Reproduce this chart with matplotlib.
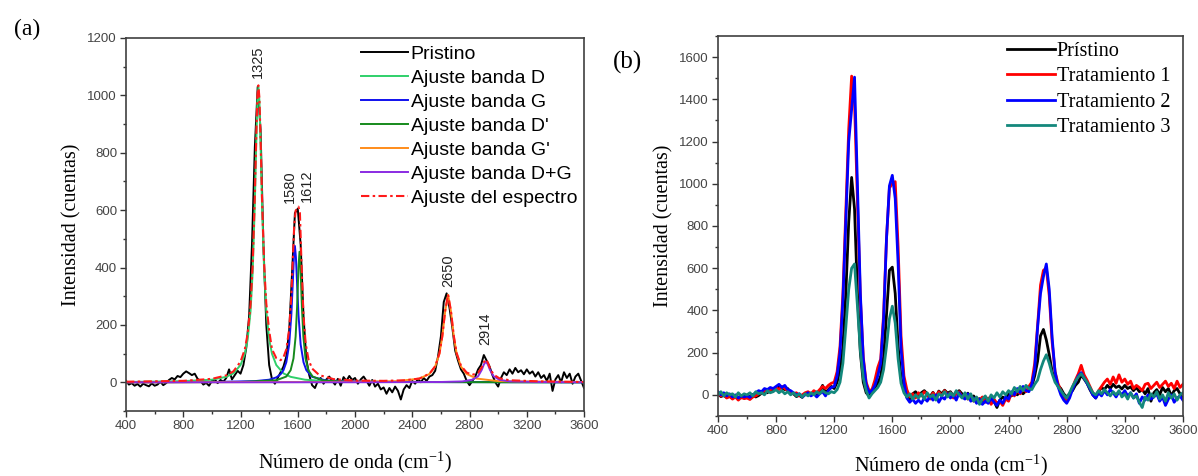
import numpy as np
import matplotlib
matplotlib.use('Agg')
from matplotlib import pyplot as plt
from matplotlib.ticker import MultipleLocator

SANS = ['Liberation Sans', 'DejaVu Sans']
SERIF = ['Liberation Serif', 'DejaVu Serif']

plt.rcParams['font.family'] = SANS
plt.rcParams['mathtext.fontset'] = 'custom'
plt.rcParams['mathtext.rm'] = 'Liberation Serif'
plt.rcParams['mathtext.it'] = 'Liberation Serif:italic'

# raman shift grid (cm-1), 20 cm-1 step
WAVENUMBER = np.arange(400, 3601, 20)

PRISTINO = [
    5, -8, -3, -12, -6, -15, -5, -10, -14, -4,
    -12, -8, 2, -10, -3, 8, 15, 10, 22, 18,
    30, 38, 32, 25, 30, 12, 5, -8, -2, -12,
    5, 10, -3, 8, 2, 15, 45, 10, 25, 40,
    30, 60, 120, 230, 480, 820, 1030, 880, 480, 200,
    60, 10, -5, 15, 35, 55, 90, 180, 380, 590,
    605, 480, 230, 80, 25, -10, -20, 5, 15, -5,
    10, 20, 5, -8, 12, -12, 18, 5, 22, 8,
    15, -5, 10, 20, 5, -12, 8, -15, -5, -25,
    -18, -40, -20, -35, -15, -30, -60, -25, -10, -20,
    5, -5, 12, 0, 15, 5, 20, 25, 40, 90,
    160, 280, 310, 260, 190, 110, 75, 45, 30, 5,
    -10, 5, 20, 45, 60, 95, 75, 55, 25, 0,
    -15, 15, 35, 25, 45, 30, 50, 35, 42, 28,
    45, 30, 38, 20, 35, 15, 25, 5, 30, -30,
    10, 25, 0, 35, 15, 30, -5, 20, 30, 5,
    -20,
]
TRATAMIENTO_1 = [
    10, -5, 5, -15, -8, -20, -10, -25, -12, -18,
    -15, -22, -10, -5, 5, 10, 20, 15, 25, 28,
    35, 25, 40, 30, 20, 15, 5, 10, -5, 0,
    10, 15, 5, 20, 10, 25, 40, 30, 45, 55,
    60, 110, 230, 480, 870, 1260, 1510, 1380, 920, 460,
    180, 60, 20, 25, 70, 130, 170, 380, 740, 980,
    1000, 1010, 700, 280, 90, 25, -10, 5, -15, 10,
    -5, 15, 0, -20, 10, -10, 15, -5, 20, 0,
    10, -15, 5, 15, -10, 0, -20, -5, -30, -15,
    -25, -10, -35, -15, -45, -20, -40, -30, -50, -20,
    -30, 10, -5, 20, 5, 30, 15, 40, 60, 150,
    330, 520, 590, 600, 470, 250, 110, 55, 20, -10,
    -25, 0, 35, 70, 100, 140, 95, 70, 40, 10,
    -5, 20, 40, 60, 75, 50, 85, 55, 95, 60,
    75, 50, 65, 30, 45, 35, 20, 50, 55, 30,
    45, 60, 35, 50, 65, 40, 55, 30, 65, 35,
    50,
]
TRATAMIENTO_2 = [
    15, 0, 10, -5, 5, -10, 0, -15, -5, -10,
    -5, -12, 0, 10, 20, 15, 30, 25, 35, 30,
    40, 50, 35, 45, 25, 20, 10, 0, 5, -10,
    0, 10, -5, 5, -10, 5, 15, -5, 20, 35,
    40, 90, 200, 450, 820, 1200, 1350, 1505, 1000, 480,
    170, 50, 10, 20, 45, 90, 150, 360, 740, 990,
    1040, 930, 620, 220, 60, -15, -35, -20, -40, -25,
    -40, -15, -30, -5, -25, 0, -35, -10, -20, 5,
    -15, 0, -25, 10, -10, -20, 5, -30, -15, -40,
    -20, -45, -30, -40, -15, -35, -50, -25, -40, -10,
    -20, 15, 0, 30, 10, 40, 20, 15, 50, 120,
    320, 480, 560, 620, 500, 270, 110, 40, 0, -25,
    -40, -15, 25, 60, 90, 105, 80, 55, 30, 0,
    -15, 10, -5, 20, 0, 25, 10, -10, 15, 0,
    20, -5, 10, -15, 5, -40, -10, -25, 0, -20,
    -10, 5, -30, -10, -50, -20, 0, -35, -15, -5,
    -25,
]
TRATAMIENTO_3 = [
    0, 15, -5, 10, 0, 5, -10, 10, -5, 5,
    0, 10, -5, 15, 5, 10, 0, 20, 10, 15,
    25, 10, 20, 5, 15, 0, 10, -5, 5, -10,
    5, -5, 10, 0, 15, 5, 20, 10, 5, 15,
    10, 25, 60, 150, 320, 500, 600, 620, 420, 210,
    80, 20, -15, 5, 20, 35, 60, 120, 230, 360,
    420, 340, 170, 55, 10, -10, 5, -20, 0, -15,
    5, -20, 10, -10, 0, -25, 5, -5, 15, -10,
    10, -5, 20, 0, -15, 10, -20, 5, -30, -10,
    -45, -20, -5, -30, 0, -15, 10, -10, 15, 0,
    20, 5, 35, 15, 40, 20, 45, 30, 25, 50,
    70, 120, 160, 190, 150, 100, 60, 40, 20, 0,
    -15, 10, 40, 65, 85, 100, 80, 60, 35, 10,
    0, 20, 5, 25, 10, -5, 15, 0, 20, -10,
    5, -20, 10, -15, -5, -35, -60, -10, -25, 5,
    -10, 15, -20, 0, -30, 10, -15, 5, -25, 0,
    10,
]

# fitted bands of panel (a)
BAND_D_X = [400, 800, 1000, 1100, 1150, 1200, 1230, 1250, 1270, 1285, 1300, 1310, 1318, 1325,
            1332, 1340, 1350, 1365, 1380, 1400, 1420, 1450, 1500, 1550, 1650, 1800, 2200, 3600]
BAND_D_Y = [1, 4, 9, 19, 31, 60, 99, 150, 248, 386, 624, 835, 980, 1030,
            980, 835, 624, 386, 248, 150, 99, 60, 31, 19, 9, 4, 1, 0]
BAND_G_X = [400, 1000, 1300, 1400, 1450, 1480, 1500, 1520, 1540, 1555, 1565, 1573, 1580,
            1587, 1595, 1605, 1620, 1640, 1660, 1700, 1800, 2200, 3600]
BAND_G_Y = [0, 1, 4, 9, 17, 28, 42, 70, 132, 235, 345, 436, 475,
            436, 345, 235, 132, 70, 42, 19, 6, 1, 0]
BAND_DP_X = [400, 1200, 1450, 1520, 1550, 1570, 1585, 1595, 1605, 1612, 1619, 1629, 1639,
             1654, 1674, 1704, 1780, 2000, 3600]
BAND_DP_Y = [0, 1, 7, 20, 42, 83, 160, 261, 401, 455, 401, 261, 160,
             83, 42, 20, 6, 1, 0]
BAND_GP_X = [400, 1800, 2300, 2450, 2520, 2560, 2590, 2610, 2630, 2650, 2670, 2690, 2710,
             2740, 2780, 2850, 3000, 3600]
BAND_GP_Y = [0, 1, 4, 13, 29, 55, 100, 160, 248, 305, 248, 160, 100,
             55, 29, 13, 4, 1]
BAND_DG_X = [400, 2000, 2600, 2750, 2820, 2860, 2885, 2900, 2914, 2928, 2943, 2968, 3008,
             3080, 3300, 3600]
BAND_DG_Y = [0, 0, 1, 3, 9, 21, 43, 62, 72, 62, 43, 21, 9, 3, 1, 0]
FIT_X = [400, 800, 1000, 1100, 1150, 1200, 1230, 1250, 1270, 1285, 1300, 1310, 1318, 1325,
         1332, 1340, 1350, 1365, 1380, 1400, 1420, 1450, 1480, 1500, 1520, 1540, 1555, 1565,
         1575, 1585, 1595, 1605, 1615, 1625, 1640, 1655, 1675, 1700, 1750, 1850, 2000, 2200,
         2350, 2450, 2520, 2560, 2590, 2610, 2630, 2650, 2670, 2690, 2710, 2740, 2780, 2820,
         2860, 2885, 2900, 2914, 2928, 2943, 2968, 3008, 3080, 3300, 3600]
FIT_Y = [2, 5, 12, 24, 38, 72, 115, 170, 270, 410, 650, 860, 1000, 1035,
         990, 850, 645, 410, 275, 180, 115, 84, 77, 87, 115, 185, 300, 425,
         545, 598, 605, 612, 590, 430, 232, 136, 79, 48, 25, 11, 6, 5,
         7, 13, 30, 56, 101, 161, 249, 306, 250, 162, 102, 58, 34, 26,
         33, 52, 70, 80, 69, 49, 27, 14, 7, 3, 1]

PEAK_LABELS = ['1325', '1580', '1612', '2650', '2914']
PEAK_LABEL_X = [1320, 1546, 1665, 2650, 2909]
PEAK_LABEL_Y = [1060, 626, 628, 332, 129]


def style_axes(ax, ylim, ytop, xpad):
    ax.set_xlim(400, 3600)
    ax.set_ylim(*ylim)
    ax.xaxis.set_major_locator(MultipleLocator(400))
    ax.xaxis.set_minor_locator(MultipleLocator(200))
    ax.yaxis.set_major_locator(MultipleLocator(200))
    ax.yaxis.set_minor_locator(MultipleLocator(100))
    ax.set_yticks(np.arange(0, ytop + 1, 200))
    ax.tick_params(which='both', direction='out', top=False, right=False,
                   color='#333333', width=1.0)
    ax.tick_params(which='major', length=4, pad=2.5, labelsize=9.5, labelcolor='#444444')
    ax.tick_params(which='minor', length=2.2)
    for s in ax.spines.values():
        s.set_color('#404040')
        s.set_linewidth(1.2)
    ax.set_xlabel('Número de onda (cm$^{-1}$)', family=SERIF, fontsize=14.5, labelpad=xpad)
    ax.set_ylabel('Intensidad (cuentas)', family=SERIF, fontsize=14.5, labelpad=4)


fig = plt.figure(figsize=(11.98, 4.76), dpi=100)
ax_a = fig.add_axes([0.1052, 0.1366, 0.3823, 0.7836])
ax_b = fig.add_axes([0.5993, 0.1261, 0.3881, 0.7983])

# panel (a)
ax_a.plot(WAVENUMBER, PRISTINO, color='black', lw=1.4, label='Pristino')
ax_a.plot(BAND_D_X, BAND_D_Y, color='#2fd06a', lw=1.4, label='Ajuste banda D')
ax_a.plot(BAND_G_X, BAND_G_Y, color='#1010ee', lw=1.4, label='Ajuste banda G')
ax_a.plot(BAND_DP_X, BAND_DP_Y, color='#168a1c', lw=1.4, label="Ajuste banda D'")
ax_a.plot(BAND_GP_X, BAND_GP_Y, color='#ff8c1a', lw=1.4, label="Ajuste banda G'")
ax_a.plot(BAND_DG_X, BAND_DG_Y, color='#8a2be2', lw=1.4, label='Ajuste banda D+G')
ax_a.plot(FIT_X, FIT_Y, color='#ff1a1a', lw=1.5, dashes=(4, 1.6, 1.2, 1.6),
          label='Ajuste del espectro')
for txt, px, py in zip(PEAK_LABELS, PEAK_LABEL_X, PEAK_LABEL_Y):
    ax_a.text(px, py, txt, rotation=90, ha='center', va='bottom', fontsize=10.5,
              color='#222222')
style_axes(ax_a, (-100, 1200), 1200, 13)
ax_a.legend(loc='upper left', bbox_to_anchor=(0.513, 0.98), frameon=False,
            fontsize=14, handlelength=2.4, handletextpad=0.15, labelspacing=0.33,
            borderpad=0, borderaxespad=0)

# panel (b)
ax_b.plot(WAVENUMBER, PRISTINO, color='black', lw=2.0, label='Prístino')
ax_b.plot(WAVENUMBER, TRATAMIENTO_1, color='#ff0000', lw=2.0, label='Tratamiento 1')
ax_b.plot(WAVENUMBER, TRATAMIENTO_2, color='#0000ff', lw=2.0, label='Tratamiento 2')
ax_b.plot(WAVENUMBER, TRATAMIENTO_3, color='#14887c', lw=2.0, label='Tratamiento 3')
style_axes(ax_b, (-100, 1700), 1600, 11)
ax_b.legend(loc='upper left', bbox_to_anchor=(0.6215, 0.985), frameon=False,
            prop={'family': SERIF, 'size': 14.6}, handlelength=2.35, handletextpad=0.1,
            labelspacing=0.31, borderpad=0, borderaxespad=0)

fig.text(27 / 1198, 1 - 29 / 476, '(a)', family=SERIF, fontsize=17, ha='center', va='center')
fig.text(627 / 1198, 1 - 62 / 476, '(b)', family=SERIF, fontsize=18, ha='center', va='center')

fig.savefig('out.png', dpi=100)
